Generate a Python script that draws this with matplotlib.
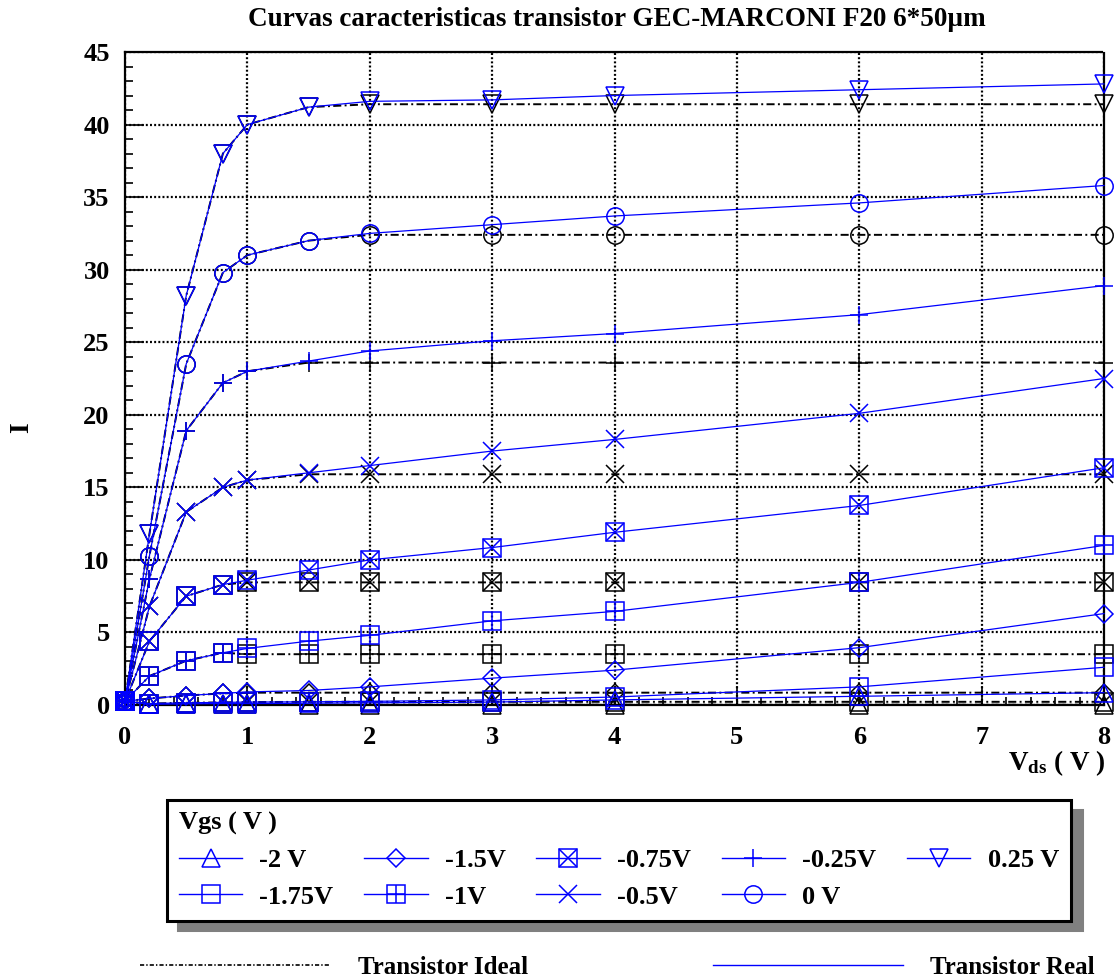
#!/usr/bin/env python3
"""
Curvas caracteristicas I-Vds del transistor GEC-MARCONI F20 6*50um.
Comparacion entre el modelo ideal y las medidas del transistor real.
"""

import matplotlib
matplotlib.use('Agg')
import matplotlib.pyplot as plt
from matplotlib.lines import Line2D
from matplotlib.ticker import MultipleLocator

# Tension drenador-fuente (V)
vds = [0, 0.2, 0.5, 0.8, 1, 1.5, 2, 3, 4, 6, 8]

vgs_labels = ['-2 V', '-1.75V', '-1.5V', '-1V', '-0.75V',
              '-0.5V', '-0.25V', '0 V', '0.25 V']

# Corriente medida (transistor real)
real_m200 = [0.25, 0.05, 0.08, 0.10, 0.10, 0.12, 0.15, 0.20, 0.35, 0.60, 0.85]
real_m175 = [0.25, 0.10, 0.15, 0.18, 0.20, 0.22, 0.25, 0.35, 0.55, 1.25, 2.60]
real_m150 = [0.25, 0.45, 0.65, 0.80, 0.90, 1.00, 1.25, 1.85, 2.40, 3.95, 6.30]
real_m100 = [0.25, 2.00, 3.05, 3.60, 3.90, 4.40, 4.80, 5.80, 6.45, 8.45, 11.0]
real_m075 = [0.25, 4.40, 7.50, 8.30, 8.60, 9.30, 10.0, 10.85, 11.9, 13.75, 16.35]
real_m050 = [0.25, 6.80, 13.3, 15.0, 15.5, 16.0, 16.5, 17.5, 18.3, 20.1, 22.5]
real_m025 = [0.25, 8.70, 18.9, 22.2, 23.0, 23.7, 24.4, 25.1, 25.6, 26.9, 28.9]
real_000 = [0.25, 10.3, 23.5, 29.8, 31.0, 32.0, 32.5, 33.1, 33.7, 34.6, 35.8]
real_p025 = [0.25, 11.8, 28.2, 38.0, 40.0, 41.2, 41.6, 41.7, 42.0, 42.4, 42.8]

# Modelo ideal (saturacion plana)
ideal_m200 = [0.25, 0.05, 0.05, 0.05, 0.05, 0.02, 0.02, 0.02, 0.02, 0.02, 0.02]
ideal_m175 = [0.25, 0.10, 0.15, 0.18, 0.20, 0.22, 0.22, 0.22, 0.22, 0.22, 0.22]
ideal_m150 = [0.25, 0.45, 0.65, 0.80, 0.85, 0.85, 0.85, 0.85, 0.85, 0.85, 0.85]
ideal_m100 = [0.25, 2.00, 3.05, 3.60, 3.50, 3.50, 3.50, 3.50, 3.50, 3.50, 3.50]
ideal_m075 = [0.25, 4.40, 7.50, 8.30, 8.45, 8.45, 8.45, 8.45, 8.45, 8.45, 8.45]
ideal_m050 = [0.25, 6.80, 13.3, 15.0, 15.5, 15.9, 15.9, 15.9, 15.9, 15.9, 15.9]
ideal_m025 = [0.25, 8.70, 18.9, 22.2, 23.0, 23.6, 23.6, 23.6, 23.6, 23.6, 23.6]
ideal_000 = [0.25, 10.3, 23.5, 29.8, 31.0, 32.0, 32.4, 32.4, 32.4, 32.4, 32.4]
ideal_p025 = [0.25, 11.8, 28.2, 38.0, 40.0, 41.2, 41.4, 41.4, 41.4, 41.4, 41.4]

real_curves = [real_m200, real_m175, real_m150, real_m100, real_m075,
               real_m050, real_m025, real_000, real_p025]
ideal_curves = [ideal_m200, ideal_m175, ideal_m150, ideal_m100, ideal_m075,
                ideal_m050, ideal_m025, ideal_000, ideal_p025]

# Simbolos de cada curva (los compuestos se superponen)
symbols = [['^'], ['s'], ['D'], ['s', '+'], ['s', 'x'],
           ['x'], ['+'], ['o'], ['v']]
msize = {'^': 13, 'v': 13, 's': 12.5, 'x': 12.5, '+': 13, 'o': 12.5, 'D': 9}

BLUE = '#0000ff'
IDEAL_DASH = (0, (5.8, 2.4, 1.4, 2.4))
FONT = 'Liberation Serif'

plt.rcParams['font.family'] = FONT
plt.rcParams['font.weight'] = 'bold'
plt.rcParams['mathtext.fontset'] = 'custom'
plt.rcParams['mathtext.rm'] = FONT + ':bold'
plt.rcParams['mathtext.bf'] = FONT + ':bold'
plt.rcParams['mathtext.it'] = FONT + ':bold'
plt.rcParams['lines.scale_dashes'] = False


def draw_curve(ax, y, marks, color, ls, lw, z):
    """Draw one Id-Vds curve with its (possibly stacked) symbol."""
    ax.plot(vds, y, color=color, linestyle=ls, lw=lw, zorder=z, clip_on=False)
    for m in marks:
        ax.plot(vds, y, linestyle='none', marker=m, ms=msize[m],
                mfc='none', mec=color, mew=1.1, zorder=z + 0.5, clip_on=False)


def legend_handle(marks):
    parts = [Line2D([], [], color=BLUE, lw=1.0, marker=marks[0],
                    ms=msize[marks[0]], mfc='none', mec=BLUE, mew=1.1)]
    for m in marks[1:]:
        parts.append(Line2D([], [], linestyle='none', marker=m, ms=msize[m],
                            mfc='none', mec=BLUE, mew=1.1))
    return tuple(parts)


def main():
    fig = plt.figure(figsize=(11.2, 9.8), dpi=100)
    ax = fig.add_axes([125 / 1120, 1 - 705 / 980, 979 / 1120, 653 / 980])

    for y, marks in zip(ideal_curves, symbols):
        draw_curve(ax, y, marks, 'black', IDEAL_DASH, 1.4, 3)
    for y, marks in zip(real_curves, symbols):
        draw_curve(ax, y, marks, BLUE, '-', 0.9, 5)

    ax.set_xlim(0, 8)
    ax.set_ylim(0, 45)
    ax.set_xticks(range(0, 9))
    ax.set_yticks(range(0, 46, 5))
    ax.xaxis.set_minor_locator(MultipleLocator(0.2))
    ax.yaxis.set_minor_locator(MultipleLocator(1))
    ax.tick_params(which='both', direction='in', top=False, right=False,
                   width=1.2, labelsize=19)
    ax.tick_params(which='major', length=14)
    ax.tick_params(which='minor', length=6)
    ax.tick_params(axis='x', pad=15)
    ax.tick_params(axis='y', pad=11)
    ax.grid(True, which='major', color='black', lw=1.6,
            linestyle=(0, (1.4, 1.6)))
    ax.set_axisbelow(True)
    for side in ('left', 'bottom'):
        ax.spines[side].set_linewidth(1.6)
    for side in ('top', 'right'):
        ax.spines[side].set_linewidth(1.6)
        ax.spines[side].set_linestyle((0, (1.4, 1.6)))

    fig.text(617 / 1120, 1 - 26 / 980,
             'Curvas caracteristicas transistor GEC-MARCONI F20 6*50\u00b5m',
             ha='center', va='baseline', fontsize=19.5, fontweight='bold')
    fig.text(22 / 1120, 1 - 428 / 980, 'I', rotation=90, ha='center',
             va='center', fontsize=20, fontweight='bold')
    fig.text(1105 / 1120, 1 - 770 / 980, r'$\mathbf{V}_{\mathbf{ds}}$ ( V )',
             ha='right', va='baseline', fontsize=19.5)

    # Leyenda de tensiones de puerta
    handles = [legend_handle(m) for m in symbols]
    leg = fig.legend(handles, vgs_labels, loc='upper left',
                     bbox_to_anchor=(167 / 1120, 1 - 800 / 980),
                     borderaxespad=0, ncol=5, title='Vgs ( V )',
                     alignment='left', fontsize=19,
                     title_fontproperties={'size': 19, 'weight': 'bold'},
                     handlelength=2.4, handletextpad=0.65, columnspacing=1.17,
                     labelspacing=0.5, borderpad=0.45,
                     fancybox=False, framealpha=1, edgecolor='black',
                     shadow={'ox': 8, 'oy': -7, 'facecolor': '0.5',
                             'edgecolor': '0.5', 'alpha': 1})
    leg.get_frame().set_linewidth(2.2)

    # Leyenda ideal / real
    model_handles = [Line2D([], [], color='black', lw=1.2,
                            linestyle=(0, (3, 1.5, 1, 1.5))),
                     Line2D([], [], color=BLUE, lw=1.0)]
    fig.legend(model_handles, ['Transistor Ideal', 'Transistor Real'],
               loc='center left', bbox_to_anchor=(130 / 1120, 1 - 967 / 980),
               borderaxespad=0, ncol=2, frameon=False, fontsize=18,
               handlelength=7.6, handletextpad=1.1, columnspacing=7.4)

    fig.savefig('out.png', dpi=100, facecolor='white')
    plt.close(fig)


if __name__ == '__main__':
    main()
